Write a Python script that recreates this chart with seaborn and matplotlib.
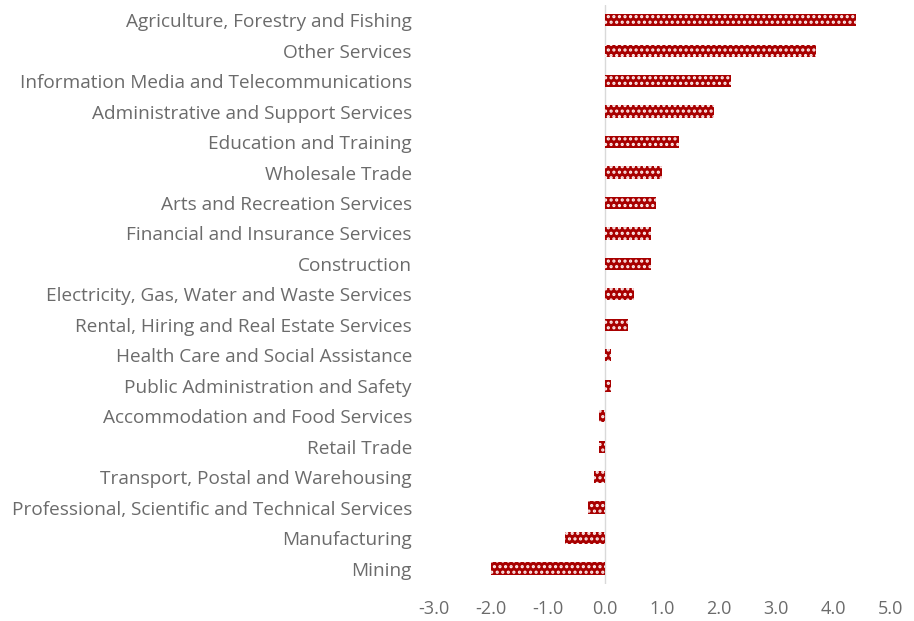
import matplotlib
matplotlib.use("Agg")
import matplotlib.pyplot as plt
import seaborn as sns
import pandas as pd

industries = [
    "Agriculture, Forestry and Fishing",
    "Other Services",
    "Information Media and Telecommunications",
    "Administrative and Support Services",
    "Education and Training",
    "Wholesale Trade",
    "Arts and Recreation Services",
    "Financial and Insurance Services",
    "Construction",
    "Electricity, Gas, Water and Waste Services",
    "Rental, Hiring and Real Estate Services",
    "Health Care and Social Assistance",
    "Public Administration and Safety",
    "Accommodation and Food Services",
    "Retail Trade",
    "Transport, Postal and Warehousing",
    "Professional, Scientific and Technical Services",
    "Manufacturing",
    "Mining",
]
change = [4.4, 3.7, 2.2, 1.9, 1.3, 1.0, 0.9, 0.8, 0.8, 0.5, 0.4,
          0.1, 0.1, -0.1, -0.1, -0.2, -0.3, -0.7, -2.0]
x_ticks = [-3.0, -2.0, -1.0, 0.0, 1.0, 2.0, 3.0, 4.0, 5.0]

df = pd.DataFrame({"industry": industries, "change": change})

sns.set_theme(style="white")
plt.rcParams["font.family"] = ["Open Sans", "DejaVu Sans"]
plt.rcParams["hatch.linewidth"] = 1.5

fig = plt.figure(figsize=(9.14, 6.21), dpi=100)
ax = fig.add_axes([0.475, 0.06, 0.499, 0.932])

sns.barplot(data=df, x="change", y="industry", orient="h", ax=ax,
            color="#B00000", width=0.4, saturation=1)

# dotted fill: white dots on dark red
for bar in ax.patches:
    bar.set_facecolor("#A80000")
    bar.set_edgecolor("#FFF0F0")
    bar.set_linewidth(0)
    bar.set_hatch("...")

ax.axvline(0, color="#D9D9D9", linewidth=1, zorder=0)
ax.set_xlim(-3, 5)
ax.set_xticks(x_ticks)
ax.set_xticklabels([f"{v:.1f}" for v in x_ticks])
ax.set_xlabel("")
ax.set_ylabel("")
for s in ax.spines.values():
    s.set_visible(False)
ax.tick_params(axis="y", length=0, pad=16, labelsize=13.7, labelcolor="#6B6B6B")
ax.tick_params(axis="x", length=0, pad=12, labelsize=13, labelcolor="#6B6B6B")

fig.savefig("out.png", dpi=100, facecolor="white")
